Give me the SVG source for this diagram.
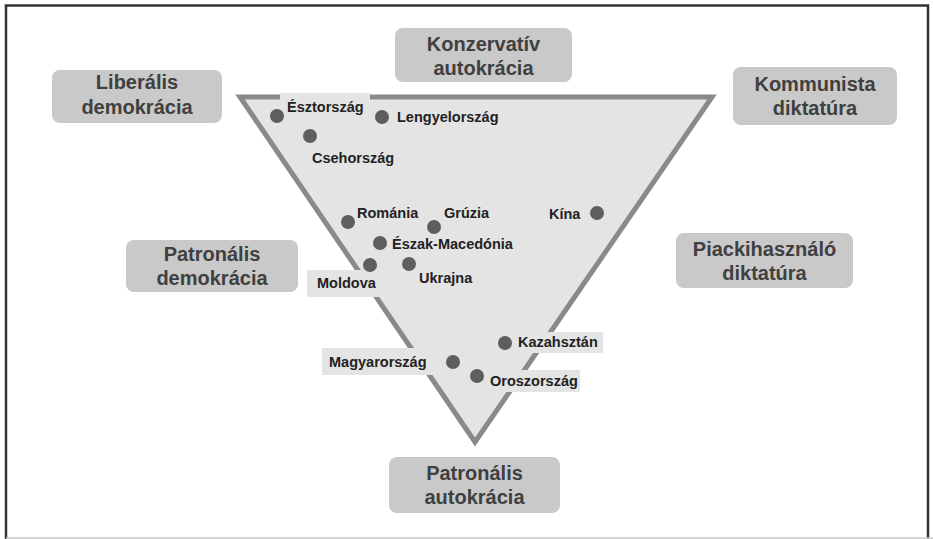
<svg xmlns="http://www.w3.org/2000/svg" width="933" height="539" viewBox="0 0 933 539">
<style>
.box rect{fill:#c9c9c9;}
.box text{font-family:"Liberation Sans",Arial,sans-serif;font-weight:bold;font-size:20px;fill:#404040;text-anchor:middle;}
.lbl{font-family:"Liberation Sans",Arial,sans-serif;font-weight:bold;font-size:14.5px;fill:#222;}
.dot{fill:#5e5e5e;}
.lbg{fill:#e4e4e4;}
</style>
<rect x="0" y="0" width="933" height="539" fill="#fff"/>
<path d="M6 539 V5.5 H928 V539" fill="none" stroke="#333" stroke-width="2.5"/>
<line x1="6" y1="538" x2="933" y2="538" stroke="#c8c8c8" stroke-width="1.5"/>

<g id="triangle">
<polygon points="240,97 712,97 475,442" fill="#e4e4e4" stroke="#8a8a8a" stroke-width="5" stroke-linejoin="miter"/>
</g>

<g id="liberalis-demokracia" class="box">
<rect x="52" y="70" width="170" height="53" rx="8"/>
<text x="137" y="89">Liberális</text>
<text x="137" y="114">demokrácia</text>
</g>
<g id="konzervativ-autokracia" class="box">
<rect x="395" y="28" width="177" height="54" rx="8"/>
<text x="483.5" y="51">Konzervatív</text>
<text x="483.5" y="75">autokrácia</text>
</g>
<g id="kommunista-diktatura" class="box">
<rect x="733" y="67" width="164" height="58" rx="8"/>
<text x="815" y="91">Kommunista</text>
<text x="815" y="115">diktatúra</text>
</g>
<g id="patronalis-demokracia" class="box">
<rect x="126" y="240" width="172" height="52" rx="8"/>
<text x="212" y="261">Patronális</text>
<text x="212" y="285">demokrácia</text>
</g>
<g id="piackihasznalo-diktatura" class="box">
<rect x="676" y="233" width="177" height="55" rx="8"/>
<text x="764.5" y="256">Piackihasználó</text>
<text x="764.5" y="280">diktatúra</text>
</g>
<g id="patronalis-autokracia" class="box">
<rect x="389" y="457" width="171" height="56" rx="8"/>
<text x="474.5" y="480">Patronális</text>
<text x="474.5" y="504">autokrácia</text>
</g>

<g id="esztorszag">
<rect class="lbg" x="280" y="93" width="90" height="18"/>
<circle class="dot" cx="277" cy="116" r="7"/>
<text class="lbl" x="287" y="112">Észtország</text>
</g>
<g id="lengyelorszag">
<circle class="dot" cx="382" cy="117" r="7"/>
<text class="lbl" x="397" y="122">Lengyelország</text>
</g>
<g id="csehorszag">
<circle class="dot" cx="310" cy="136" r="7"/>
<text class="lbl" x="312" y="163">Csehország</text>
</g>
<g id="romania">
<circle class="dot" cx="348" cy="222" r="7"/>
<text class="lbl" x="357" y="218">Románia</text>
</g>
<g id="gruzia">
<circle class="dot" cx="434" cy="227" r="7"/>
<text class="lbl" x="444" y="218">Grúzia</text>
</g>
<g id="kina">
<circle class="dot" cx="597" cy="213" r="7"/>
<text class="lbl" x="549" y="219">Kína</text>
</g>
<g id="eszak-macedonia">
<circle class="dot" cx="380" cy="243" r="7"/>
<text class="lbl" x="392" y="249">Észak-Macedónia</text>
</g>
<g id="moldova">
<rect class="lbg" x="307" y="270" width="76" height="27"/>
<circle class="dot" cx="370" cy="265" r="7"/>
<text class="lbl" x="317" y="288">Moldova</text>
</g>
<g id="ukrajna">
<circle class="dot" cx="409" cy="264" r="7"/>
<text class="lbl" x="419" y="283">Ukrajna</text>
</g>
<g id="kazahsztan">
<rect class="lbg" x="513" y="332" width="90" height="21"/>
<circle class="dot" cx="505" cy="343" r="7"/>
<text class="lbl" x="518" y="347">Kazahsztán</text>
</g>
<g id="magyarorszag">
<rect class="lbg" x="322" y="348" width="118" height="27"/>
<circle class="dot" cx="453" cy="362" r="7"/>
<text class="lbl" x="329" y="367">Magyarország</text>
</g>
<g id="oroszorszag">
<rect class="lbg" x="487" y="370" width="93" height="22"/>
<circle class="dot" cx="477" cy="376" r="7"/>
<text class="lbl" x="490" y="386">Oroszország</text>
</g>
</svg>
